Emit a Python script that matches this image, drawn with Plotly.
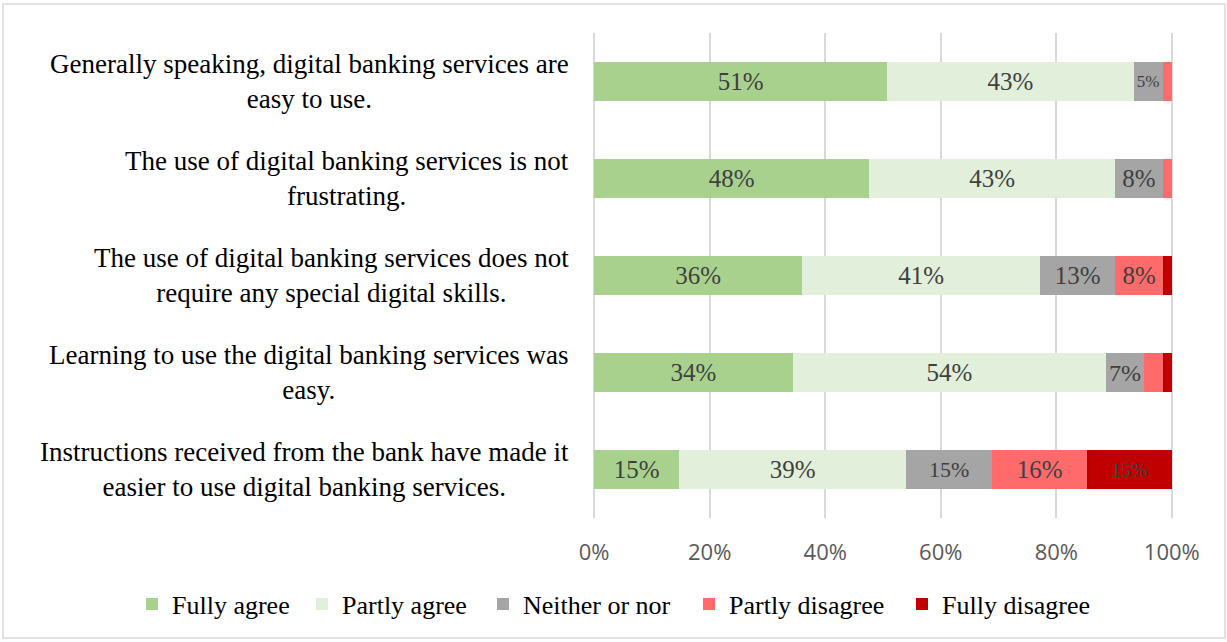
import plotly.graph_objects as go

statements = [
    "Generally speaking, digital banking services are<br>easy to use.",
    "The use of digital banking services is not<br>frustrating.",
    "The use of digital banking services does not<br>require any special digital skills.",
    "Learning to use the digital banking services was<br>easy.",
    "Instructions received from the bank have made it<br>easier to use digital banking services.",
]

responses = ["Fully agree", "Partly agree", "Neither or nor", "Partly disagree", "Fully disagree"]

fully_agree = [50.7, 47.6, 36.0, 34.4, 14.7]
partly_agree = [42.7, 42.6, 41.2, 54.2, 39.3]
neither = [5.0, 8.2, 13.0, 6.6, 14.9]
partly_disagree = [1.6, 1.6, 8.3, 3.2, 16.4]
fully_disagree = [0.0, 0.0, 1.6, 1.6, 14.7]

series = [fully_agree, partly_agree, neither, partly_disagree, fully_disagree]
colors = ["#a9d18e", "#e2efda", "#a5a5a5", "#ff6b6b", "#c00000"]
legend_widths = [125, 136, 161, 168, 150]

# label font size per segment (narrow segments get a smaller label)
label_sizes = [
    [25, 25, 25, 25, 25],
    [25, 25, 25, 25, 25],
    [19, 25, 25, 25, 22],
    [25, 25, 25, 25, 25],
    [25, 25, 25, 25, 20],
]

tick_vals = [0, 20, 40, 60, 80, 100]
tick_text = ["0%", "20%", "40%", "60%", "80%", "100%"]

serif = "Liberation Serif"

fig = go.Figure()
for name, vals, col, sizes, lw in zip(responses, series, colors, label_sizes, legend_widths):
    labels = [f"{v:.0f}%" if v >= 5 else "" for v in vals]
    fig.add_trace(go.Bar(
        name=name,
        y=statements,
        x=vals,
        orientation="h",
        marker=dict(color=col, line=dict(width=0)),
        text=labels,
        textposition="inside",
        insidetextanchor="middle",
        textangle=0,
        textfont=dict(family=serif, size=sizes, color="#404040"),
        legendwidth=lw,
        hoverinfo="x+name",
    ))

L, R, T, B = 593, 54, 33, 124
W, H = 1227, 642
pw, ph = W - L - R, H - T - B

# statement labels: right edge fixed, lines centred on each other
annotations = [
    dict(
        text=s, x=(571 - L) / pw, xref="paper", xanchor="right",
        y=s, yref="y", yanchor="middle", align="center", showarrow=False,
        font=dict(family=serif, size=27, color="#000000"),
    )
    for s in statements
]

fig.update_layout(
    width=W, height=H, autosize=False,
    barmode="stack",
    bargap=0.6,
    margin=dict(l=L, r=R, t=T, b=B, autoexpand=False),
    paper_bgcolor="white",
    plot_bgcolor="white",
    showlegend=True,
    legend=dict(
        orientation="h",
        traceorder="normal",
        x=(132 - L) / pw,
        xanchor="left",
        y=(T + ph - 604) / ph,
        yanchor="middle",
        font=dict(family=serif, size=26, color="#000000"),
        bgcolor="rgba(0,0,0,0)",
        tracegroupgap=0,
    ),
    xaxis=dict(
        range=[-0.2, 100.2],
        tickvals=tick_vals,
        ticktext=tick_text,
        showgrid=True,
        gridcolor="#d9d9d9",
        gridwidth=2,
        zeroline=False,
        showline=False,
        ticks="",
        ticklabelstandoff=19,
        tickfont=dict(family="Open Sans", size=22, color="#595959"),
    ),
    yaxis=dict(
        categoryorder="array",
        categoryarray=statements[::-1],
        showgrid=False,
        zeroline=False,
        ticks="",
        showticklabels=False,
    ),
    annotations=annotations,
    shapes=[dict(
        type="rect", xref="paper", yref="paper",
        x0=(3 - L) / pw, x1=(1225 - L) / pw,
        y0=(T + ph - 638) / ph, y1=(T + ph - 4) / ph,
        line=dict(color="#d9d9d9", width=1.5),
        fillcolor="rgba(0,0,0,0)",
        layer="below",
    )],
)

fig.write_html("out.html")
